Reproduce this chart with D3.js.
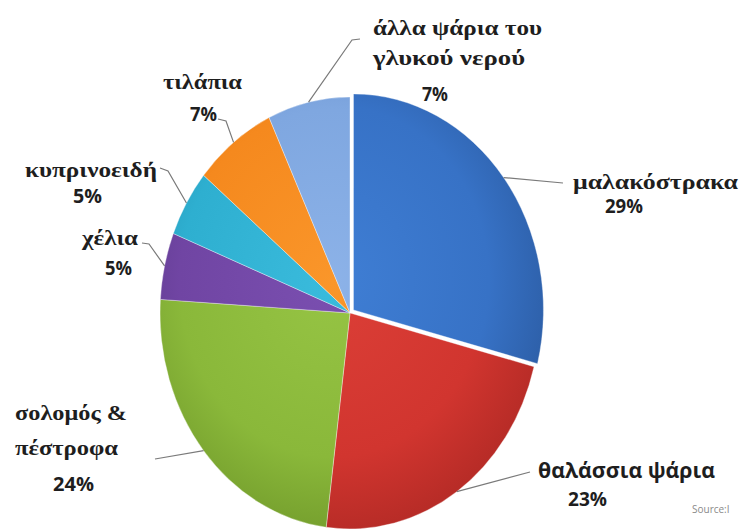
<!DOCTYPE html>
<html><head><meta charset="utf-8">
<script src="https://cdn.jsdelivr.net/npm/d3@7/dist/d3.min.js"></script>
<style>html,body{margin:0;padding:0;background:#fff;}svg{display:block}</style>
</head><body>
<svg id="chart" width="742" height="531"></svg>
<script>
// ---- data ----
const categories = ["μαλακόστρακα", "θαλάσσια ψάρια", "σολομός & πέστροφα", "χέλια", "κυπρινοειδή", "τιλάπια", "άλλα ψάρια του γλυκού νερού"];
const values = [29, 23, 24, 5, 5, 7, 7];
const percentLabels = ["29%", "23%", "24%", "5%", "5%", "7%", "7%"];
const sourceText = "Source:I";

// ---- styles ----
const baseColors = ["#3772c6", "#d1352f", "#8ab83a", "#7045a3", "#2eafd0", "#f5891e", "#7fa7e0"];
const lightColors = ["#3f7ed4", "#dc3f37", "#96c444", "#7a4fb0", "#3abbdc", "#fa962a", "#8cb2e8"];
const darkColors = ["#2d5fa8", "#b82c27", "#76a02e", "#5d3a8c", "#2595b6", "#e47812", "#6c94d0"];
const fontFamilies = {
  serif: "Liberation Serif",
  sans: "Open Sans"
};

// label layout (positions only)
const labelLayout = [
  {font: "serif", lines: [{x: 573, y: 189, len: 165}], pct: {x: 605, y: 213, len: 38}, leader: [[563, 183]]},
  {font: "sans", lines: [{x: 538, y: 478, len: 177}], pct: {x: 568, y: 506, len: 39}, leader: [[530, 472]]},
  {font: "serif", split: ["σολομός &", "πέστροφα"], lines: [{x: 15, y: 420, len: 112}, {x: 15, y: 455, len: 103}], pct: {x: 53, y: 491, len: 41}, leader: [[155, 459]]},
  {font: "serif", lines: [{x: 82, y: 245, len: 56}], pct: {x: 105, y: 275, len: 27}, leader: [[142, 243], [149, 244]]},
  {font: "serif", lines: [{x: 25, y: 177, len: 132}], pct: {x: 73, y: 203, len: 29}, leader: [[160, 168], [168, 171]]},
  {font: "serif", lines: [{x: 163, y: 89, len: 79}], pct: {x: 190, y: 121, len: 27}, leader: [[218, 119], [226, 121]]},
  {font: "serif", split: ["άλλα ψάρια του", "γλυκού νερού"], lines: [{x: 373, y: 35, len: 169}, {x: 373, y: 65, len: 152}], pct: {x: 422, y: 101, len: 26}, leader: [[360, 39], [352, 40]]}
];

const cx = 350, cy = 313, rx = 190, ry = 216;
const explode = [5, 0, 0, 0, 0, 0, 0];

const svg = d3.select("#chart");
const defs = svg.append("defs");

const pie = d3.pie().sort(null).value(d => d);
const arcs = pie(values);
const arc = d3.arc().innerRadius(0).outerRadius(ry);

arcs.forEach((a, i) => {
  const g = defs.append("radialGradient")
    .attr("id", "grad" + i)
    .attr("gradientUnits", "userSpaceOnUse")
    .attr("cx", -20).attr("cy", -30).attr("r", ry * 1.15)
    .attr("fx", -20).attr("fy", -30);
  g.append("stop").attr("offset", "0").attr("stop-color", lightColors[i]);
  g.append("stop").attr("offset", "0.7").attr("stop-color", baseColors[i]);
  g.append("stop").attr("offset", "1").attr("stop-color", darkColors[i]);
});

const pieG = svg.append("g")
  .attr("transform", `translate(${cx},${cy}) scale(${rx / ry},1)`);

pieG.selectAll("path.slice")
  .data(arcs)
  .join("path")
  .attr("class", "slice")
  .attr("d", arc)
  .attr("transform", (d, i) => {
    const m = (d.startAngle + d.endAngle) / 2;
    return `translate(${explode[i] * Math.sin(m)},${-explode[i] * Math.cos(m)})`;
  })
  .attr("fill", (d, i) => `url(#grad${i})`)
  .attr("stroke", "rgba(255,255,255,0.35)")
  .attr("stroke-width", 1)
  .attr("vector-effect", "non-scaling-stroke");

// rim point at mid-angle
function rimPoint(d, i) {
  const m = (d.startAngle + d.endAngle) / 2;
  return [cx + (rx + explode[i] * rx / ry) * Math.sin(m), cy - (ry + explode[i]) * Math.cos(m)];
}

// leader lines
const line = d3.line();
svg.selectAll("path.leader")
  .data(arcs)
  .join("path")
  .attr("class", "leader")
  .attr("d", (d, i) => line([...labelLayout[i].leader, rimPoint(d, i)]))
  .attr("fill", "none")
  .attr("stroke", "#7a7a7a")
  .attr("stroke-width", 1.2);

// labels
const labelsG = svg.append("g");
categories.forEach((c, i) => {
  const L = labelLayout[i];
  const lines = L.split || [c];
  lines.forEach((t, j) => {
    labelsG.append("text")
      .attr("x", L.lines[j].x).attr("y", L.lines[j].y)
      .attr("textLength", L.lines[j].len)
      .attr("lengthAdjust", "spacingAndGlyphs")
      .style("font-family", fontFamilies[L.font])
      .style("font-weight", "bold")
      .style("font-size", L.font === "sans" ? "21px" : "22px")
      .style("fill", "#1e1e1e")
      .text(t);
  });
  labelsG.append("text")
    .attr("x", L.pct.x).attr("y", L.pct.y)
    .attr("textLength", L.pct.len)
    .attr("lengthAdjust", "spacingAndGlyphs")
    .style("font-family", fontFamilies.sans)
    .style("font-weight", "bold")
    .style("font-size", "19px")
    .style("fill", "#1e1e1e")
    .text(percentLabels[i]);
});

svg.append("text")
  .attr("x", 692).attr("y", 513)
  .style("font-family", fontFamilies.sans)
  .style("font-size", "10px")
  .style("fill", "#8a8a8a")
  .text(sourceText);
</script>
</body></html>
